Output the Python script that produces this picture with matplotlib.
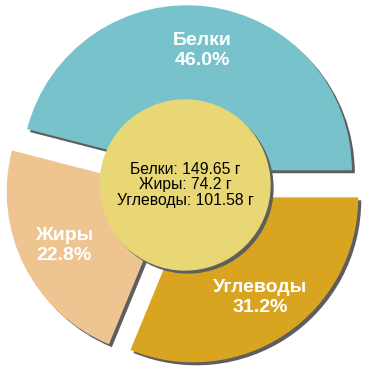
import matplotlib
matplotlib.use("Agg")
import matplotlib.pyplot as plt
from matplotlib.patches import Circle

plt.rcParams['font.family'] = ['Liberation Sans', 'DejaVu Sans']

# данные
labels = ["Белки", "Жиры", "Углеводы"]
grams = [149.65, 74.2, 101.58]
colors = ["#78C3CB", "#EEC591", "#D9A521"]
center_color = "#E8D774"
shadow_color = "#5E5E5E"

explode = [0.09] * len(grams)
sh = 0.018  # сдвиг тени

fig = plt.figure(figsize=(3.7, 3.7), dpi=100)
ax = fig.add_axes([0, 0, 1, 1])

# тень
ax.pie(grams, explode=explode, colors=[shadow_color] * len(grams),
       center=(sh, -sh), startangle=0, counterclock=True,
       wedgeprops=dict(linewidth=0))

# основной круг
wedges, texts, autotexts = ax.pie(
    grams, explode=explode, colors=colors, startangle=0, counterclock=True,
    autopct='%1.1f%%', pctdistance=0.73,
    wedgeprops=dict(linewidth=0))

for lab, t in zip(labels, autotexts):
    t.set_text(lab + "\n" + t.get_text())
    t.set_color("white")
    t.set_fontsize(14)
    t.set_fontweight("bold")
    t.set_ha("center")
    t.set_va("center")
    t.set_linespacing(1.2)

# центральный круг
ax.add_patch(Circle((sh, -sh), 0.515, color=shadow_color, zorder=3))
ax.add_patch(Circle((0, 0), 0.515, color=center_color, zorder=4))

center_txt = "\n".join(f"{l}: {g} г" for l, g in zip(labels, grams))
ax.text(0, 0, center_txt, ha="center", va="center", fontsize=11.3,
        linespacing=1.0, zorder=5, color="black")

lim = 185 / 165
ax.set_xlim(-lim, lim)
ax.set_ylim(-lim, lim)
ax.set_aspect("equal")
ax.axis("off")

fig.savefig("out.png", dpi=100)
